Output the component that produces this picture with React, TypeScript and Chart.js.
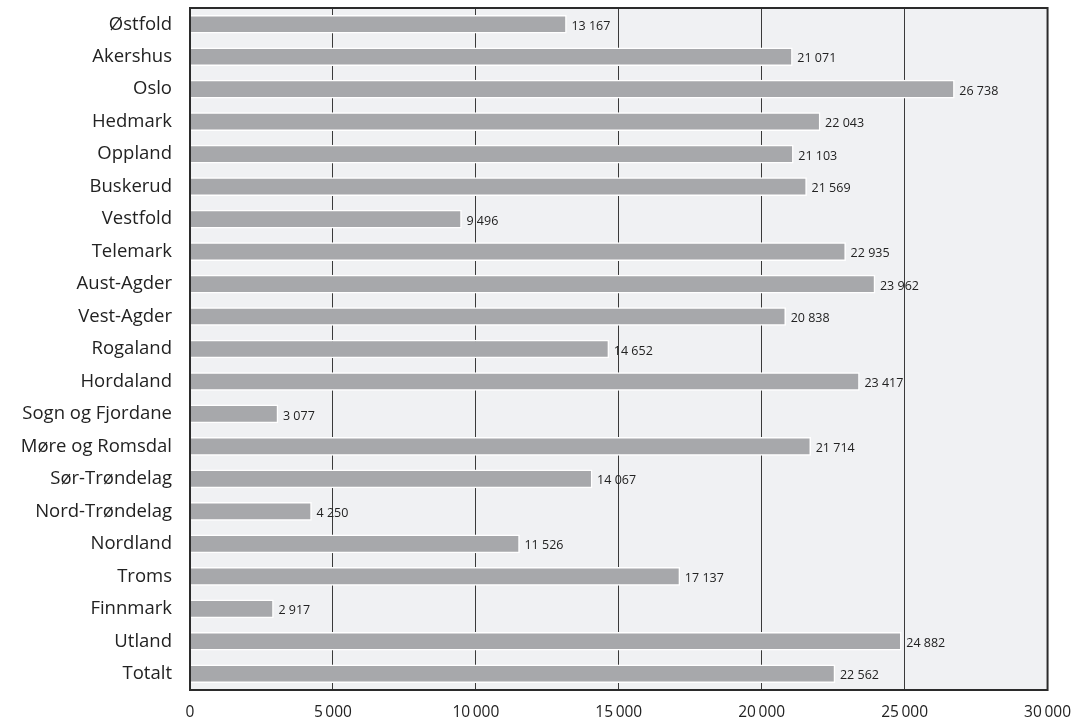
import React, { useEffect, useRef } from "react";
import { Chart, registerables } from "chart.js";

Chart.register(...registerables);

const categories = [
  "Østfold", "Akershus", "Oslo", "Hedmark", "Oppland", "Buskerud", "Vestfold",
  "Telemark", "Aust-Agder", "Vest-Agder", "Rogaland", "Hordaland",
  "Sogn og Fjordane", "Møre og Romsdal", "Sør-Trøndelag", "Nord-Trøndelag",
  "Nordland", "Troms", "Finnmark", "Utland", "Totalt",
];
const values = [
  13167, 21071, 26738, 22043, 21103, 21569, 9496, 22935, 23962, 20838, 14652,
  23417, 3077, 21714, 14067, 4250, 11526, 17137, 2917, 24882, 22562,
];
const xMin = 0;
const xMax = 30000;
const xStep = 5000;

const FONT = "'Open Sans', Lato, sans-serif";
const fmt = (v: number, sep: string) =>
  String(Math.round(v)).replace(/\B(?=(\d{3})+(?!\d))/g, sep);

const framePlugin = {
  id: "frame",
  beforeDraw(chart: any) {
    const { ctx, chartArea: a } = chart;
    ctx.save();
    ctx.fillStyle = "#f0f1f3";
    ctx.fillRect(a.left, a.top, a.right - a.left, a.bottom - a.top);
    ctx.restore();
  },
  afterDraw(chart: any) {
    const { ctx, chartArea: a } = chart;
    ctx.save();
    ctx.strokeStyle = "#2b2b2b";
    ctx.lineWidth = 2;
    ctx.strokeRect(a.left, a.top, a.right - a.left, a.bottom - a.top);
    ctx.restore();
  },
};

const labelPlugin = {
  id: "barLabels",
  afterDatasetsDraw(chart: any) {
    const { ctx } = chart;
    const meta = chart.getDatasetMeta(0);
    ctx.save();
    ctx.font = `12.5px ${FONT}`;
    ctx.fillStyle = "#222";
    ctx.textAlign = "left";
    ctx.textBaseline = "middle";
    meta.data.forEach((bar: any, i: number) => {
      ctx.fillText(fmt(values[i], " "), bar.x + 5, bar.y + 2);
    });
    ctx.restore();
  },
};

export default function App() {
  const ref = useRef<HTMLCanvasElement | null>(null);
  useEffect(() => {
    document.body.style.margin = "0";
    const chart = new Chart(ref.current as HTMLCanvasElement, {
      type: "bar",
      data: {
        labels: categories,
        datasets: [
          {
            data: values,
            backgroundColor: "#a7a8ab",
            borderColor: "#ffffff",
            borderWidth: 1.5,
            barThickness: 18,
          },
        ],
      },
      options: {
        indexAxis: "y",
        animation: false,
        responsive: false,
        maintainAspectRatio: false,
        layout: { padding: { top: 8, right: 36, bottom: 0, left: 0 } },
        plugins: { legend: { display: false }, tooltip: { enabled: false } },
        scales: {
          x: {
            min: xMin,
            max: xMax,
            ticks: {
              stepSize: xStep,
              color: "#222",
              font: { family: FONT, size: 15.5 },
              padding: 13,
              callback: (v: any) => fmt(Number(v), "\u2009"),
            },
            grid: {
              color: (c: any) =>
                c.tick && (c.tick.value === xMin || c.tick.value === xMax)
                  ? "rgba(0,0,0,0)"
                  : "#3a3a3a",
              lineWidth: 1,
              drawTicks: false,
            },
            border: { display: false },
            afterFit: (s: any) => {
              s.height = 34;
            },
          },
          y: {
            ticks: {
              color: "#222",
              font: { family: FONT, size: 18.5 },
              padding: 18,
            },
            grid: { display: false, drawTicks: false },
            border: { display: false },
            afterFit: (s: any) => {
              s.width = 190;
              s.paddingTop = 0;
              s.paddingBottom = 0;
            },
          },
        },
      },
      plugins: [framePlugin, labelPlugin],
    } as any);
    return () => chart.destroy();
  }, []);
  return (
    <div style={{ width: 1084, height: 724 }}>
      <canvas ref={ref} width={1084} height={724} />
    </div>
  );
}
